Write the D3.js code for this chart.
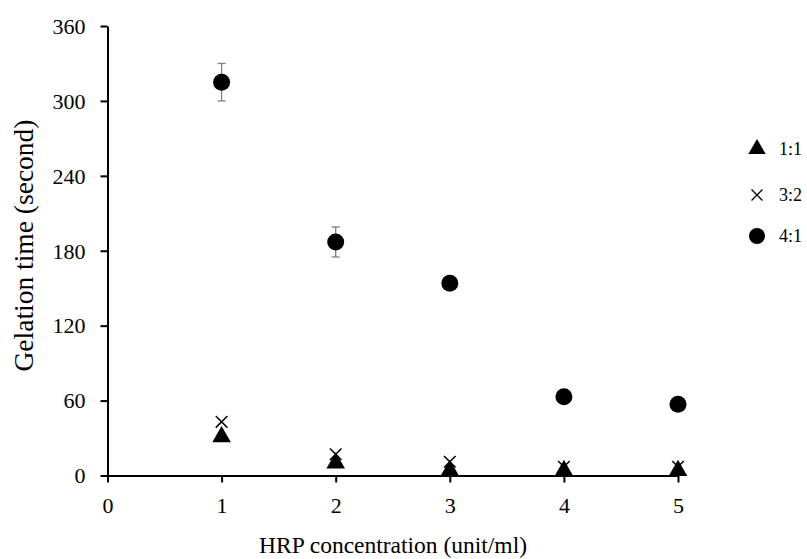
<!DOCTYPE html>
<html>
<head>
<meta charset="utf-8">
<script src="https://cdn.jsdelivr.net/npm/d3@7"></script>
<style>
  body { margin: 0; background: #fff; }
  text { font-family: "Liberation Serif", "Times New Roman", serif; fill: #000; }
</style>
</head>
<body>
<div id="chart"></div>
<script>

// HRP concentration (unit/ml)
var concentrations = [ 1, 2, 3, 4, 5 ];

// gelation time (second) for each ratio
var ratio11 = [ 31, 10, 4, 4, 4 ];
var ratio32 = [ 43, 17, 11, 7, 7 ];
var ratio41 = [ 315, 187, 154, 63, 57 ];
var ratio41Err = [ 15, 12, 0, 0, 0 ];

var xTicks = [ 0, 1, 2, 3, 4, 5 ];
var yTicks = [ 0, 60, 120, 180, 240, 300, 360 ];

var seriesNames = [ '1:1', '3:2', '4:1' ];

var width = 807,
    height = 559;

var svg = d3.select('#chart').append('svg')
    .attr('width', width)
    .attr('height', height);

var x = d3.scaleLinear()
    .domain([ 0, 5 ])
    .range([ 107.5, 678 ]);

var y = d3.scaleLinear()
    .domain([ 0, 360 ])
    .range([ 475.5, 26 ]);

// axes
var xAxis = svg.append('g')
    .attr('transform', 'translate(0,' + y(0) + ')')
    .call( d3.axisBottom( x ).tickValues( xTicks ).tickFormat( d3.format('d') ).tickSize( 7 ).tickSizeOuter( 0 ) );

var yAxis = svg.append('g')
    .attr('transform', 'translate(' + x(0) + ',0)')
    .call( d3.axisLeft( y ).tickValues( yTicks ).tickFormat( d3.format('d') ).tickSize( 7 ).tickSizeOuter( 0 ) );

[ xAxis, yAxis ].forEach( function ( a ) {
    a.attr('font-family', null).attr('font-size', null);
    a.select('.domain').attr('stroke', '#000').attr('stroke-width', 2);
    a.selectAll('.tick line').attr('stroke', '#000').attr('stroke-width', 2);
    a.selectAll('.tick text')
        .style('font-family', '"Liberation Serif", serif')
        .style('font-size', '22px')
        .attr('fill', '#000');
});

xAxis.selectAll('.tick text').attr('y', 22).attr('dy', '0.71em');
yAxis.selectAll('.tick text').attr('x', -22).attr('dy', '0.33em');

// axis titles
svg.append('text')
    .attr('x', 393)
    .attr('y', 553)
    .attr('text-anchor', 'middle')
    .style('font-size', '23.5px')
    .text('HRP concentration (unit/ml)');

svg.append('text')
    .attr('transform', 'translate(33,245.5) rotate(-90)')
    .attr('text-anchor', 'middle')
    .style('font-size', '27.5px')
    .text('Gelation time (second)');

// error bars for 4:1
var errG = svg.append('g');

concentrations.forEach( function ( c, i ) {

    if ( !ratio41Err[ i ] ) return;

    var cx = x( c );
    var top = y( ratio41[ i ] + ratio41Err[ i ] );
    var bot = y( ratio41[ i ] - ratio41Err[ i ] );

    errG.append('line')
        .attr('x1', cx).attr('x2', cx)
        .attr('y1', top).attr('y2', bot)
        .attr('stroke', '#7f7f7f').attr('stroke-width', 1.3);

    [ top, bot ].forEach( function ( yy ) {
        errG.append('line')
            .attr('x1', cx - 4).attr('x2', cx + 4)
            .attr('y1', yy).attr('y2', yy)
            .attr('stroke', '#7f7f7f').attr('stroke-width', 1.3);
    });

});

var triangle = d3.symbol().type( d3.symbolTriangle ).size( 150 );
var cross = d3.symbol().type( d3.symbolX ).size( 90 );

function drawSeries ( values, kind ) {

    var g = svg.append('g');

    values.forEach( function ( d, i ) {

        var px = x( concentrations[ i ] ),
            py = y( d );

        if ( kind === 'circle' ) {
            g.append('circle')
                .attr('cx', px).attr('cy', py).attr('r', 8.5)
                .attr('fill', '#000');
        } else if ( kind === 'triangle' ) {
            g.append('path')
                .attr('d', triangle)
                .attr('transform', 'translate(' + px + ',' + py + ')')
                .attr('fill', '#000');
        } else {
            g.append('path')
                .attr('d', cross)
                .attr('transform', 'translate(' + px + ',' + py + ')')
                .attr('fill', 'none')
                .attr('stroke', '#000')
                .attr('stroke-width', 1.5);
        }

    });

}

drawSeries( ratio41, 'circle' );
drawSeries( ratio11, 'triangle' );
drawSeries( ratio32, 'cross' );

// legend
var legend = svg.append('g');
var legendY = [ 149, 195, 236 ];
var kinds = [ 'triangle', 'cross', 'circle' ];

seriesNames.forEach( function ( name, i ) {

    var ly = legendY[ i ];

    if ( kinds[ i ] === 'circle' ) {
        legend.append('circle')
            .attr('cx', 757).attr('cy', ly).attr('r', 8)
            .attr('fill', '#000');
    } else if ( kinds[ i ] === 'triangle' ) {
        legend.append('path')
            .attr('d', d3.symbol().type( d3.symbolTriangle ).size( 130 ))
            .attr('transform', 'translate(757,' + ly + ')')
            .attr('fill', '#000');
    } else {
        legend.append('path')
            .attr('d', d3.symbol().type( d3.symbolX ).size( 80 ))
            .attr('transform', 'translate(757,' + ly + ')')
            .attr('fill', 'none')
            .attr('stroke', '#000')
            .attr('stroke-width', 1.3);
    }

    legend.append('text')
        .attr('x', 779)
        .attr('y', ly)
        .attr('dy', '0.35em')
        .style('font-size', '18px')
        .text( name );

});

</script>
</body>
</html>
